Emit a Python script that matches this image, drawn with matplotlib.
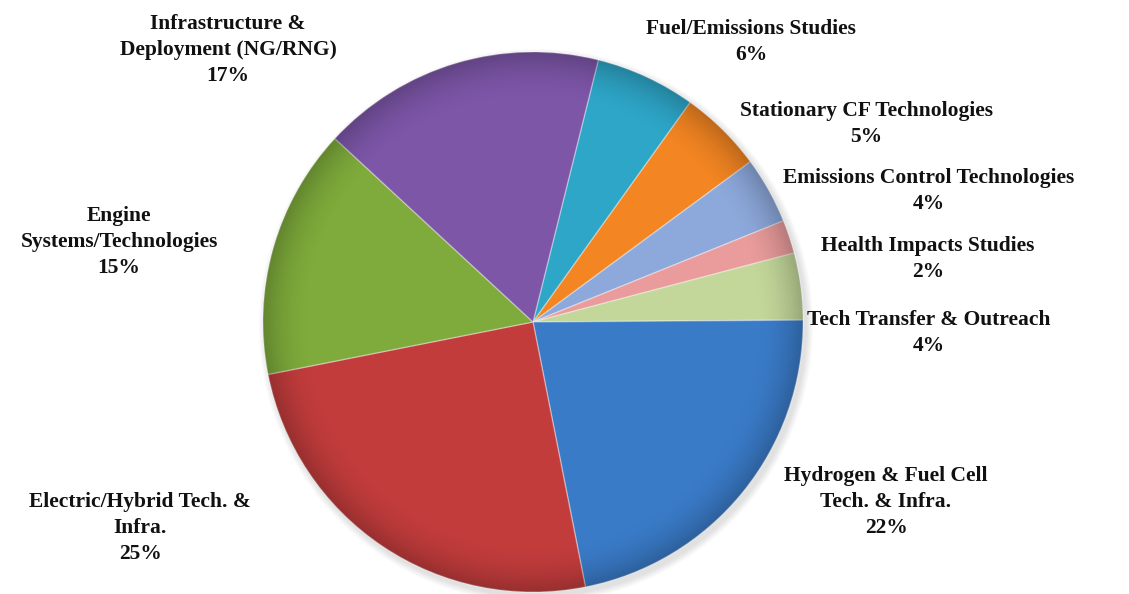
import numpy as np
import matplotlib
matplotlib.use("Agg")
import matplotlib.pyplot as plt
from matplotlib.patches import Circle

# Funding share by research area (percent), clockwise from the top
categories = [
    "Fuel/Emissions Studies",
    "Stationary CF Technologies",
    "Emissions Control Technologies",
    "Health Impacts Studies",
    "Tech Transfer & Outreach",
    "Hydrogen & Fuel Cell\nTech. & Infra.",
    "Electric/Hybrid Tech. &\nInfra.",
    "Engine\nSystems/Technologies",
    "Infrastructure &\nDeployment (NG/RNG)",
]
shares = [6, 5, 4, 2, 4, 22, 25, 15, 17]
colors = ["#2EA6C8", "#F38522", "#8DA9DC", "#EA9C9C", "#C3D79A",
          "#3A7BC8", "#C23C3C", "#7EAB3B", "#7D56A8"]

# label anchor points (figure pixels, origin at top-left)
label_xy = [(751, 42), (866, 124), (929, 191), (928, 259), (929, 333),
            (886, 502), (140, 528), (119, 242), (228, 50)]

W, H = 1129, 594
fig = plt.figure(figsize=(W / 100, H / 100), dpi=100)
ax = fig.add_axes([0, 0, 1, 1])

cx, cy, r = 533, H - 322, 270

# soft drop shadow
for k in range(6):
    ax.add_patch(Circle((cx + 3, cy - 4), r + 1 + k * 1.2, color="#000000",
                        alpha=0.018, lw=0, zorder=0))

wedges, _ = ax.pie(shares, colors=colors, startangle=76, counterclock=False,
                   center=(cx, cy), radius=r, frame=True,
                   wedgeprops=dict(edgecolor=(1, 1, 1, 0.35), linewidth=1.0))
for w in wedges:
    w.set_zorder(2)
ax.set_xlim(0, W)
ax.set_ylim(0, H)
ax.set_aspect("equal")
ax.axis("off")

# bevel shading: darker toward the rim
n = 600
yy, xx = np.mgrid[-1:1:n * 1j, -1:1:n * 1j]
rr = np.sqrt(xx ** 2 + yy ** 2)
shade = np.zeros((n, n, 4))
shade[..., 3] = np.clip((rr - 0.82) / 0.18, 0, 1) ** 2 * 0.22
img = ax.imshow(shade, extent=(cx - r, cx + r, cy - r, cy + r),
                origin="lower", zorder=3, interpolation="bilinear")
img.set_clip_path(Circle((cx, cy), r, transform=ax.transData))

for name, val, (lx, ly) in zip(categories, shares, label_xy):
    ax.text(lx, H - ly, f"{name}\n{val}%", ha="center", va="center",
            family="Liberation Serif", fontweight="bold", fontsize=15.5,
            color="#111111", linespacing=1.38, zorder=5)

fig.savefig("out.png", dpi=100)
